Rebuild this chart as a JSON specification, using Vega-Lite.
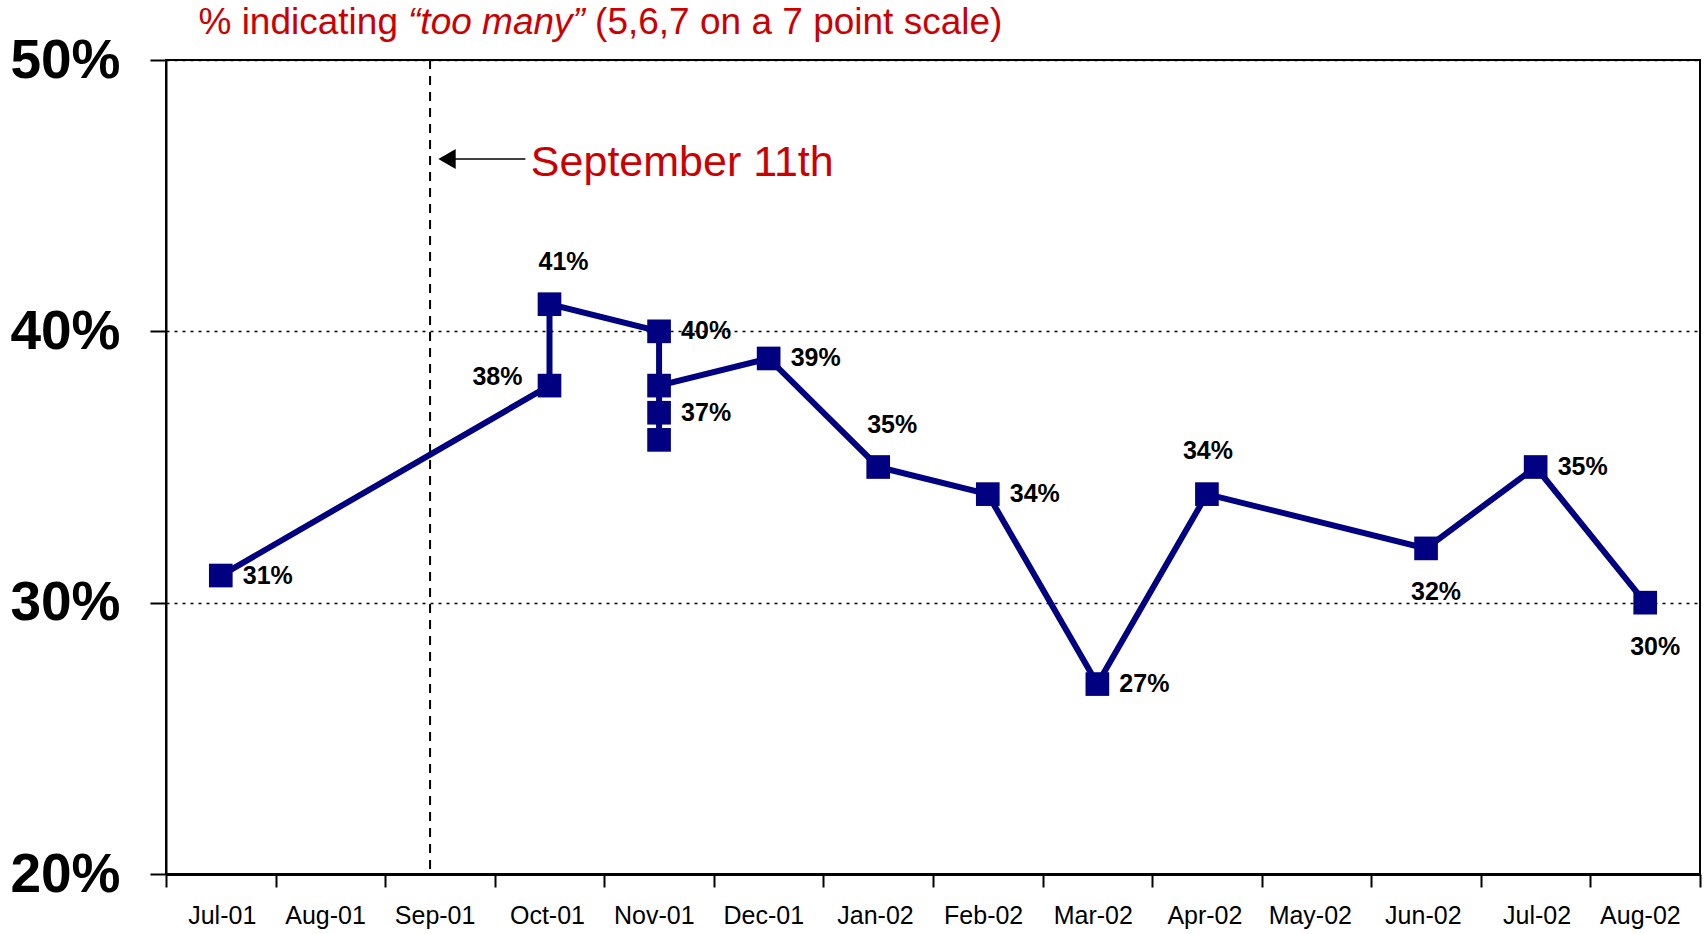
{
  "$schema": "https://vega.github.io/schema/vega-lite/v6.json",
  "width": 1534,
  "height": 814,
  "autosize": {"type": "none"},
  "padding": {"left": 166, "top": 60, "right": 6, "bottom": 60},
  "background": "white",
  "config": {"view": {"stroke": "black", "strokeWidth": 2}, "font": "Liberation Sans"},
  "layer": [
    {
      "mark": {"type": "rule", "stroke": "black", "strokeWidth": 2, "strokeDash": [9, 7]},
      "data": {"values": [{}]},
      "encoding": {
        "x": {"datum": "Sep-01", "type": "ordinal", "bandPosition": 0.41, "title": null}
      }
    },
    {
      "data": {"values": [
        {"month": "Jul-01", "value": 0.31, "seq": 1},
        {"month": "Oct-01", "value": 0.38, "seq": 2},
        {"month": "Oct-01", "value": 0.41, "seq": 3},
        {"month": "Nov-01", "value": 0.40, "seq": 4},
        {"month": "Nov-01", "value": 0.36, "seq": 5},
        {"month": "Nov-01", "value": 0.37, "seq": 6},
        {"month": "Nov-01", "value": 0.38, "seq": 7},
        {"month": "Dec-01", "value": 0.39, "seq": 8},
        {"month": "Jan-02", "value": 0.35, "seq": 9},
        {"month": "Feb-02", "value": 0.34, "seq": 10},
        {"month": "Mar-02", "value": 0.27, "seq": 11},
        {"month": "Apr-02", "value": 0.34, "seq": 12},
        {"month": "Jun-02", "value": 0.32, "seq": 13},
        {"month": "Jul-02", "value": 0.35, "seq": 14},
        {"month": "Aug-02", "value": 0.30, "seq": 15}
      ]},
      "encoding": {
        "x": {
          "field": "month", "type": "ordinal", "title": null,
          "scale": {"domain": ["Jul-01","Aug-01","Sep-01","Oct-01","Nov-01","Dec-01","Jan-02","Feb-02","Mar-02","Apr-02","May-02","Jun-02","Jul-02","Aug-02"], "paddingInner": 0, "paddingOuter": 0},
          "axis": {"labelFont": "Liberation Sans", "labelFontSize": 25, "labelColor": "black", "labelAngle": 0, "labelPadding": 28, "labelOffset": 35, "tickBand": "extent", "tickSize": 13, "tickColor": "black", "tickWidth": 2, "domainColor": "black", "domainWidth": 3, "grid": false}
        },
        "y": {
          "field": "value", "type": "quantitative", "title": null,
          "scale": {"domain": [0.2, 0.5], "nice": false, "zero": false},
          "axis": {"values": [0.2, 0.3, 0.4, 0.5], "format": ".0%", "labelFont": "Liberation Sans", "labelFontSize": 55, "labelFontWeight": "bold", "labelColor": "black", "labelPadding": 30, "tickSize": 16, "tickColor": "black", "tickWidth": 2, "domainColor": "black", "domainWidth": 2, "grid": true, "gridColor": "black", "gridDash": [3, 5], "gridWidth": 1.5}
        }
      },
      "layer": [
        {"mark": {"type": "line", "stroke": "#000080", "strokeWidth": 6}, "encoding": {"order": {"field": "seq", "type": "quantitative"}}},
        {"mark": {"type": "point", "shape": "square", "filled": true, "fill": "#000080", "opacity": 1, "size": 560}},
        {
          "transform": [{"filter": {"field": "seq", "oneOf": [1, 4, 6, 8, 10, 11, 14]}}],
          "mark": {"type": "text", "align": "left", "baseline": "middle", "dx": 22, "fontSize": 25, "fontWeight": "bold", "fill": "black"},
          "encoding": {"text": {"field": "value", "type": "quantitative", "format": ".0%"}}
        },
        {
          "transform": [{"filter": {"field": "seq", "oneOf": [2]}}],
          "mark": {"type": "text", "align": "right", "baseline": "middle", "dx": -27, "dy": -9, "fontSize": 25, "fontWeight": "bold", "fill": "black"},
          "encoding": {"text": {"field": "value", "type": "quantitative", "format": ".0%"}}
        },
        {
          "transform": [{"filter": {"field": "seq", "oneOf": [3, 9]}}],
          "mark": {"type": "text", "align": "center", "baseline": "middle", "dx": 14, "dy": -42, "fontSize": 25, "fontWeight": "bold", "fill": "black"},
          "encoding": {"text": {"field": "value", "type": "quantitative", "format": ".0%"}}
        },
        {
          "transform": [{"filter": {"field": "seq", "oneOf": [12]}}],
          "mark": {"type": "text", "align": "center", "baseline": "middle", "dx": 1, "dy": -43, "fontSize": 25, "fontWeight": "bold", "fill": "black"},
          "encoding": {"text": {"field": "value", "type": "quantitative", "format": ".0%"}}
        },
        {
          "transform": [{"filter": {"field": "seq", "oneOf": [13, 15]}}],
          "mark": {"type": "text", "align": "center", "baseline": "middle", "dx": 10, "dy": 44, "fontSize": 25, "fontWeight": "bold", "fill": "black"},
          "encoding": {"text": {"field": "value", "type": "quantitative", "format": ".0%"}}
        }
      ]
    },
    {
      "data": {"values": [{}]},
      "mark": {"type": "rule", "stroke": "black", "strokeWidth": 1.5},
      "encoding": {
        "x": {"datum": "Sep-01", "type": "ordinal", "bandPosition": 0.56, "title": null},
        "x2": {"datum": "Oct-01", "bandPosition": 0.28},
        "y": {"datum": 0.4635, "type": "quantitative", "title": null}
      }
    },
    {
      "data": {"values": [{}]},
      "mark": {"type": "point", "shape": "triangle-left", "filled": true, "fill": "black", "opacity": 1, "size": 400},
      "encoding": {
        "x": {"datum": "Sep-01", "type": "ordinal", "bandPosition": 0.565, "title": null},
        "y": {"datum": 0.4635, "type": "quantitative", "title": null}
      }
    },
    {
      "data": {"values": [{"t": "September 11th"}]},
      "mark": {"type": "text", "align": "left", "baseline": "middle", "fontSize": 43, "fill": "#cc0000"},
      "encoding": {
        "x": {"datum": "Oct-01", "type": "ordinal", "bandPosition": 0.33, "title": null},
        "y": {"datum": 0.4622, "type": "quantitative", "title": null},
        "text": {"field": "t"}
      }
    },
    {
      "data": {"values": [{"t": "% indicating"}]},
      "mark": {"type": "text", "align": "right", "baseline": "middle", "fontSize": 37, "fill": "#cc0000"},
      "encoding": {
        "x": {"datum": "Sep-01", "type": "ordinal", "bandPosition": 0.117, "title": null},
        "y": {"datum": 0.5138, "type": "quantitative", "title": null},
        "text": {"field": "t"}
      }
    },
    {
      "data": {"values": [{"t": "“too many”"}]},
      "mark": {"type": "text", "align": "center", "baseline": "middle", "fontSize": 37, "fontStyle": "italic", "fill": "#cc0000"},
      "encoding": {
        "x": {"datum": "Oct-01", "type": "ordinal", "bandPosition": 0.016, "title": null},
        "y": {"datum": 0.5138, "type": "quantitative", "title": null},
        "text": {"field": "t"}
      }
    },
    {
      "data": {"values": [{"t": "(5,6,7 on a 7 point scale)"}]},
      "mark": {"type": "text", "align": "left", "baseline": "middle", "fontSize": 37, "fill": "#cc0000"},
      "encoding": {
        "x": {"datum": "Oct-01", "type": "ordinal", "bandPosition": 0.916, "title": null},
        "y": {"datum": 0.5138, "type": "quantitative", "title": null},
        "text": {"field": "t"}
      }
    }
  ]
}
